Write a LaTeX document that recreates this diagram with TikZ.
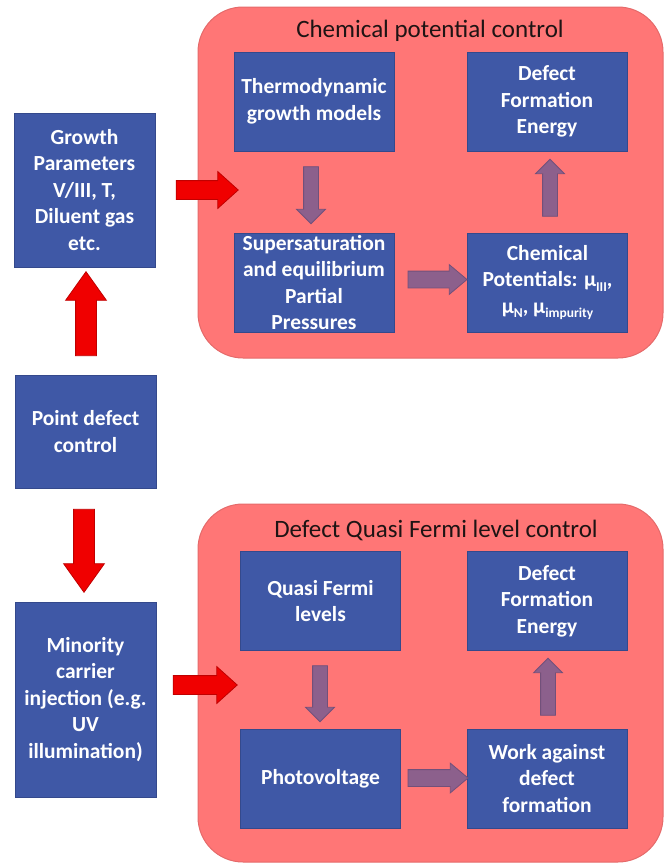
\documentclass[tikz,border=0pt]{standalone}
\usepackage{fontspec}
\setmainfont{Carlito}
\usetikzlibrary{shapes.arrows}
\definecolor{panelfill}{HTML}{FF7676}
\definecolor{paneledge}{HTML}{E56A6A}
\definecolor{boxfill}{HTML}{3F58A6}
\definecolor{boxedge}{HTML}{34498C}
\definecolor{redfill}{HTML}{F00000}
\definecolor{rededge}{HTML}{C00000}
\definecolor{purplefill}{HTML}{8C608C}
\definecolor{purpleedge}{HTML}{72507A}
\definecolor{titletext}{HTML}{1E1414}
\newcommand\mysub[1]{\raisebox{-0.4ex}{\fontsize{13.5}{13.5}\selectfont #1}}
\tikzset{
  panel/.style={draw=paneledge, fill=panelfill, rounded corners=45pt, line width=1pt, inner sep=0pt},
  paneltitle/.style={font=\fontsize{25}{29}\selectfont, text=titletext, inner sep=0pt},
  bluebox/.style={draw=boxedge, fill=boxfill, line width=0.8pt, inner sep=0pt, align=center,
    text=white, font=\bfseries\fontsize{21.5}{26.5}\selectfont},
  innerbox/.style={bluebox, minimum width=160pt, minimum height=99pt},
  sidebox/.style={bluebox, minimum width=141pt},
  redarrow/.style={single arrow, draw=rededge, fill=redfill, line width=0.8pt, inner sep=0pt,
    single arrow head indent=0pt},
  purplearrow/.style={single arrow, draw=purpleedge, fill=purplefill, line width=0.8pt, inner sep=0pt,
    single arrow head indent=0pt}
}
\begin{document}
\begin{tikzpicture}[x=1pt,y=-1pt]
\useasboundingbox (0,0) rectangle (670,865);
% panels
\node[panel, minimum width=465pt, minimum height=351pt] (toppanel) at (430.5,182.5) {};
\node[panel, minimum width=465pt, minimum height=358pt] (botpanel) at (430.5,683) {};
\node[paneltitle, anchor=base] (toptitle) at (430,37) {Chemical potential control};
\node[paneltitle, anchor=base] (bottitle) at (436,537) {Defect Quasi Fermi level control};
% side boxes
\node[sidebox, minimum height=154pt] (growth) at (84.5,190) {Growth\\Parameters\\V/III, T,\\Diluent gas\\etc.};
\node[sidebox, minimum height=113pt] (point) at (85.5,431.5) {Point defect\\control};
\node[sidebox, minimum height=195pt] (minority) at (85.5,699.5) {Minority\\carrier\\injection (e.g.\\UV\\illumination)};
% top panel boxes
\node[innerbox] (thermo) at (314,101.5) {Thermodynamic\\growth models};
\node[innerbox] (dfetop) at (547,101.5) {Defect\\Formation\\Energy};
\node[innerbox] (super) at (314,282.5) {Supersaturation\\and equilibrium\\Partial\\Pressures};
\node[innerbox] (chem) at (547.5,282.5) {Chemical\\Potentials: μ\mysub{III},\\μ\mysub{N}, μ\mysub{impurity}};
% bottom panel boxes
\node[innerbox] (quasi) at (320.5,601) {Quasi Fermi\\levels};
\node[innerbox] (dfebot) at (547,601) {Defect\\Formation\\Energy};
\node[innerbox] (photo) at (320.5,778.5) {Photovoltage};
\node[innerbox] (work) at (547,778.5) {Work against\\defect\\formation};
% red arrows
\node[redarrow, inner ysep=9pt, single arrow head extend=9pt, single arrow tip angle=84, minimum height=62pt] (ra1) at (202,190) {};
\node[redarrow, inner ysep=10pt, single arrow head extend=10pt, single arrow tip angle=71, minimum height=84pt, rotate=90] (ra2) at (86,321) {};
\node[redarrow, inner ysep=10pt, single arrow head extend=10pt, single arrow tip angle=71, minimum height=83pt, rotate=-90] (ra3) at (84,543.5) {};
\node[redarrow, inner ysep=9pt, single arrow head extend=9pt, single arrow tip angle=84, minimum height=64pt] (ra4) at (200,685) {};
% purple arrows
\node[purplearrow, inner ysep=7pt, single arrow head extend=7pt, minimum height=57pt, rotate=-90] (pa1) at (311,191.5) {};
\node[purplearrow, inner ysep=8pt, single arrow head extend=6.5pt, single arrow tip angle=80, minimum height=59pt] (pa2) at (432.5,279.5) {};
\node[purplearrow, inner ysep=7pt, single arrow head extend=7pt, minimum height=57pt, rotate=90] (pa3) at (550,191.5) {};
\node[purplearrow, inner ysep=7pt, single arrow head extend=7pt, minimum height=56pt, rotate=-90] (pa4) at (320,690) {};
\node[purplearrow, inner ysep=8pt, single arrow head extend=6.5pt, single arrow tip angle=80, minimum height=60pt] (pa5) at (433,778) {};
\node[purplearrow, inner ysep=7pt, single arrow head extend=7pt, minimum height=57pt, rotate=90] (pa6) at (548,690.5) {};
\end{tikzpicture}
\end{document}
